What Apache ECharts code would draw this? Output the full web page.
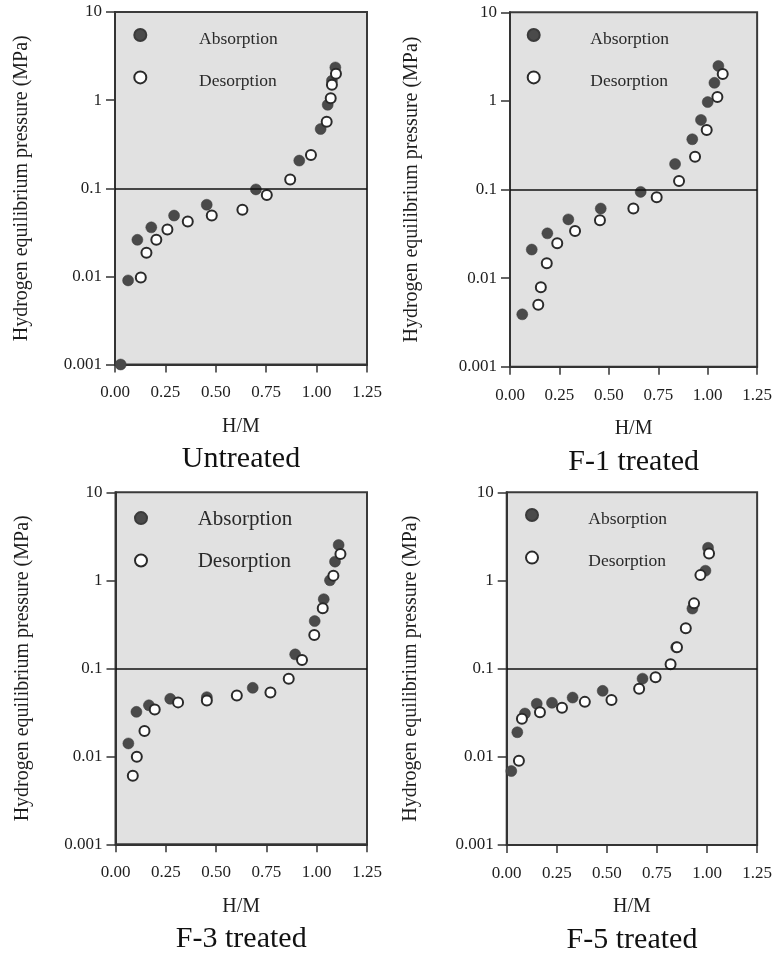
<!DOCTYPE html>
<html>
<head>
<meta charset="utf-8">
<script src="https://cdn.jsdelivr.net/npm/echarts@6/dist/echarts.min.js"></script>
<style>
html,body{margin:0;padding:0;background:#fff;}
#chart{width:775px;height:954px;}
</style>
</head>
<body>
<div id="chart"></div>
<script>
// ---- data ----
const panelTitles = ['Untreated', 'F-1 treated', 'F-3 treated', 'F-5 treated'];
const seriesNames = ['Absorption', 'Desorption'];
const xAxisName = 'H/M';
const yAxisName = 'Hydrogen equilibrium pressure (MPa)';
const xTickLabels = ['0.00', '0.25', '0.50', '0.75', '1.00', '1.25'];
const yTickLabels = ['0.001', '0.01', '0.1', '1', '10'];

const untreatedAbsX = [0.028, 0.065, 0.111, 0.18, 0.293, 0.455, 0.699, 0.914, 1.02, 1.055, 1.076, 1.093];
const untreatedAbsP = [0.001, 0.009, 0.026, 0.036, 0.049, 0.065, 0.097, 0.206, 0.47, 0.885, 1.66, 2.35];
const untreatedDesX = [0.128, 0.156, 0.205, 0.26, 0.361, 0.48, 0.632, 0.753, 0.869, 0.972, 1.05, 1.07, 1.076, 1.096];
const untreatedDesP = [0.0097, 0.0185, 0.026, 0.034, 0.042, 0.049, 0.057, 0.084, 0.126, 0.239, 0.57, 1.05, 1.49, 1.99];

const f1AbsX = [0.062, 0.11, 0.189, 0.295, 0.459, 0.661, 0.835, 0.922, 0.966, 1.0, 1.034, 1.054];
const f1AbsP = [0.0039, 0.021, 0.032, 0.046, 0.061, 0.094, 0.194, 0.369, 0.61, 0.97, 1.6, 2.48];
const f1DesX = [0.143, 0.156, 0.186, 0.239, 0.329, 0.455, 0.624, 0.742, 0.855, 0.936, 0.995, 1.049, 1.076];
const f1DesP = [0.005, 0.0079, 0.0147, 0.0247, 0.034, 0.045, 0.061, 0.082, 0.125, 0.234, 0.47, 1.11, 2.01];

const f3AbsX = [0.064, 0.104, 0.166, 0.272, 0.454, 0.682, 0.893, 0.99, 1.035, 1.066, 1.091, 1.109];
const f3AbsP = [0.014, 0.032, 0.038, 0.045, 0.047, 0.06, 0.144, 0.344, 0.61, 1.0, 1.63, 2.52];
const f3DesX = [0.086, 0.106, 0.144, 0.195, 0.311, 0.454, 0.603, 0.77, 0.861, 0.927, 0.988, 1.03, 1.083, 1.118];
const f3DesP = [0.006, 0.0099, 0.0194, 0.034, 0.041, 0.043, 0.049, 0.053, 0.076, 0.124, 0.239, 0.48, 1.13, 1.99];

const f5AbsX = [0.023, 0.053, 0.091, 0.15, 0.226, 0.329, 0.479, 0.678, 0.846, 0.927, 0.992, 1.005];
const f5AbsP = [0.0069, 0.019, 0.031, 0.04, 0.041, 0.047, 0.056, 0.077, 0.175, 0.48, 1.29, 2.35];
const f5DesX = [0.061, 0.076, 0.166, 0.276, 0.39, 0.523, 0.661, 0.743, 0.818, 0.85, 0.894, 0.935, 0.967, 1.01];
const f5DesP = [0.009, 0.027, 0.032, 0.036, 0.042, 0.044, 0.059, 0.08, 0.112, 0.175, 0.287, 0.55, 1.15, 2.02];

const absData = [[untreatedAbsX, untreatedAbsP], [f1AbsX, f1AbsP], [f3AbsX, f3AbsP], [f5AbsX, f5AbsP]];
const desData = [[untreatedDesX, untreatedDesP], [f1DesX, f1DesP], [f3DesX, f3DesP], [f5DesX, f5DesP]];

// ---- layout (pixels) ----
const layout = [
  {grid: {left: 115, top: 12, width: 252, height: 352.5}, legend: {left: 133.3, top: 22, gap: 16.4, pad: 47.7, pt: 8, fs: 17.5}, yGap: 83},
  {grid: {left: 510, top: 12.3, width: 247.3, height: 354.4}, legend: {left: 526.7, top: 22, gap: 16.4, pad: 45.6, pt: 8, fs: 17.5}, yGap: 88},
  {grid: {left: 115.5, top: 492.3, width: 251.5, height: 352}, legend: {left: 134, top: 506.6, gap: 19.4, pad: 45.7, pt: 2, fs: 21}, yGap: 83},
  {grid: {left: 506.7, top: 492.3, width: 250.6, height: 352.7}, legend: {left: 525, top: 502, gap: 16.6, pad: 45.3, pt: 8, fs: 17.5}, yGap: 86}
];

const FONT = '"Liberation Serif", "DejaVu Serif", serif';
const TXT = '#1e1e1e';

const chart = echarts.init(document.getElementById('chart'), null, {renderer: 'canvas'});

const grids = [], xAxes = [], yAxes = [], series = [], legends = [], titles = [];

layout.forEach((L, i) => {
  grids.push(Object.assign({
    show: true, backgroundColor: '#e1e1e1', borderColor: '#3a3a3a', borderWidth: 2, containLabel: false
  }, L.grid));

  xAxes.push({
    gridIndex: i, type: 'value', min: 0, max: 1.25, interval: 0.25,
    name: xAxisName, nameLocation: 'middle', nameGap: 52,
    nameTextStyle: {fontFamily: FONT, fontSize: 20, color: TXT},
    axisLine: {show: true, onZero: false, lineStyle: {color: '#333', width: 2}},
    axisTick: {show: true, inside: false, length: 8, lineStyle: {color: '#333', width: 1.5}},
    axisLabel: {
      margin: 20, fontFamily: FONT, fontSize: 17, color: TXT,
      formatter: v => xTickLabels[Math.round(v / 0.25)]
    },
    splitLine: {show: false}
  });

  yAxes.push({
    gridIndex: i, type: 'log', logBase: 10, min: 0.001, max: 10,
    name: yAxisName, nameLocation: 'middle', nameGap: L.yGap, nameRotate: 90,
    nameTextStyle: {fontFamily: FONT, fontSize: 20, color: TXT},
    axisLine: {show: true, lineStyle: {color: '#333', width: 2}},
    axisTick: {show: true, inside: false, length: 9, lineStyle: {color: '#333', width: 1.5}},
    axisLabel: {
      margin: 13, fontFamily: FONT, fontSize: 17, color: TXT,
      formatter: v => yTickLabels[Math.round(Math.log10(v)) + 3]
    },
    splitLine: {show: false}
  });

  const absPts = absData[i][0].map((x, k) => [x, absData[i][1][k]]);
  const desPts = desData[i][0].map((x, k) => [x, desData[i][1][k]]);

  series.push({
    name: seriesNames[0], type: 'scatter', xAxisIndex: i, yAxisIndex: i,
    symbol: 'circle', symbolSize: 11, clip: false, z: 3,
    itemStyle: {color: '#4a4a4a', borderColor: '#3a3a3a', borderWidth: 0.5, opacity: 1},
    data: absPts,
    markLine: {
      silent: true, symbol: 'none', label: {show: false},
      lineStyle: {color: '#111', width: 1.5, type: 'solid'},
      data: [{yAxis: 0.1}]
    }
  });
  series.push({
    name: seriesNames[1], type: 'scatter', xAxisIndex: i, yAxisIndex: i,
    symbol: 'circle', symbolSize: 10, clip: false, z: 4,
    itemStyle: {color: '#ffffff', borderColor: '#2a2a2a', borderWidth: 2, opacity: 1},
    data: desPts
  });

  legends.push({
    data: seriesNames, orient: 'vertical', left: L.legend.left, top: L.legend.top,
    itemWidth: 12, itemHeight: 12, itemGap: L.legend.gap, icon: 'circle',
    selectedMode: false, padding: 0,
    formatter: name => '{t|' + name + '}',
    textStyle: {
      fontFamily: FONT, fontSize: L.legend.fs, color: '#2a2a2a',
      rich: {
        t: {
          fontFamily: FONT, fontSize: L.legend.fs, color: '#2a2a2a',
          lineHeight: 12, padding: [L.legend.pt, 0, 0, L.legend.pad]
        }
      }
    }
  });

  const cx = L.grid.left + L.grid.width / 2;
  const bottom = L.grid.top + L.grid.height;
  titles.push({
    text: panelTitles[i], left: cx, top: bottom + 80, textAlign: 'center', padding: 0,
    textStyle: {fontFamily: FONT, fontSize: 30, fontWeight: 'normal', color: '#111'}
  });
});

chart.setOption({
  animation: false,
  backgroundColor: '#ffffff',
  title: titles,
  legend: legends,
  grid: grids,
  xAxis: xAxes,
  yAxis: yAxes,
  series: series
});
</script>
</body>
</html>
